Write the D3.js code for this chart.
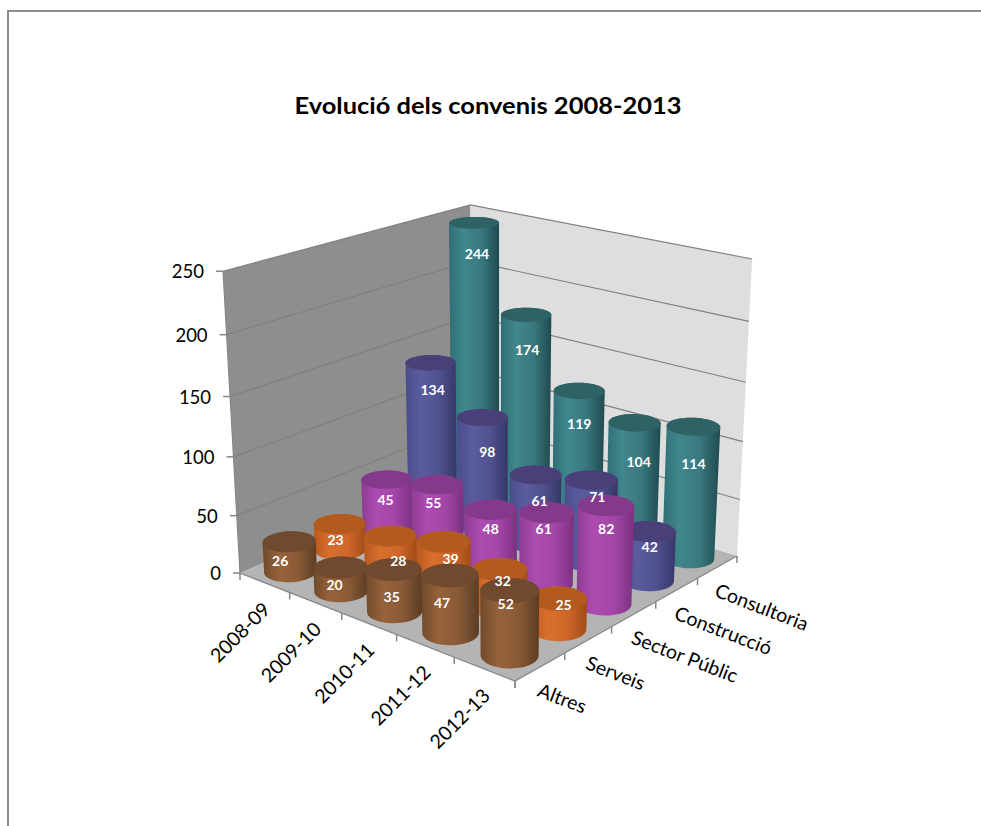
<!DOCTYPE html>
<html><head><meta charset="utf-8">
<script src="https://cdn.jsdelivr.net/npm/d3@7"></script>
<style>html,body{margin:0;padding:0;background:#fff}svg{display:block}</style>
</head><body><svg id="c" width="981" height="826"></svg>
<script>
const years = ["2008-09","2009-10","2010-11","2011-12","2012-13"];
const seriesNames = ["Altres","Serveis","Sector Públic","Construcció","Consultoria"];
const altres = [26,20,35,47,52];
const serveis = [23,28,39,32,25];
const sectorPublic = [45,55,48,61,82];
const construccio = [134,98,61,71,42];
const consultoria = [244,174,119,104,114];
const seriesValues = [altres,serveis,sectorPublic,construccio,consultoria];
const yTicks = [0,50,100,150,200,250];
// hand placement of each data label relative to the top of its column, as in the source chart
const labelNudge = [
 [[-9,0],[-6,-2],[-2,8],[-8,9],[-4,-5]],
 [[-4,-3],[8,6],[7,-2],[3,-7],[5,-12]],
 [[-1,1],[-4,-1],[0,0],[-3,-2],[0,4]],
 [[2,8],[5,16],[4,7],[6,-2],[1,-3]],
 [[3,12],[1,16],[0,14],[4,20],[0,18]]
];
const palette = [
 {side:["#6f4a2c","#96623a","#8a5a36","#5a3c24"],top:"#70492f"},
 {side:["#b8591f","#d86f2c","#cf672a","#a04c18"],top:"#b35a1e"},
 {side:["#8e3c92","#ad4cb0","#a445a8","#7a3180"],top:"#84398a"},
 {side:["#4a4c8a","#5a5c9e","#50528f","#363668"],top:"#4a3f78"},
 {side:["#2e6f74","#41878d","#38787e","#1f4a4e"],top:"#2f6265"}
];
// projection anchors
const L=[240,573],F=[515,681],R=[737,556],B=[472,474],V=[500,5203];
const Ltop=[223,270],Rtop=[752,259],Btop=[470,206];
function homography(p0,p1,p2,p3){ // (0,0),(1,0),(1,1),(0,1)
  const dx1=p1[0]-p2[0],dx2=p3[0]-p2[0],sx=p0[0]-p1[0]+p2[0]-p3[0];
  const dy1=p1[1]-p2[1],dy2=p3[1]-p2[1],sy=p0[1]-p1[1]+p2[1]-p3[1];
  const det=dx1*dy2-dx2*dy1;
  const g=(sx*dy2-dx2*sy)/det,h=(dx1*sy-sx*dy1)/det;
  return [p1[0]-p0[0]+g*p1[0],p3[0]-p0[0]+h*p3[0],p0[0],
          p1[1]-p0[1]+g*p1[1],p3[1]-p0[1]+h*p3[1],p0[1],g,h,1];
}
const H=homography(L,F,R,B);
const floor=(u,v)=>[H[0]*u+H[1]*v+H[2],H[3]*u+H[4]*v+H[5],H[6]*u+H[7]*v+H[8]];
const kOf=(uv,p,t)=>{const w=floor(...uv)[2];return w*(p[1]-t[1])/(t[1]-V[1]);};
const k=d3.mean([kOf([0,0],L,Ltop),kOf([1,1],R,Rtop),kOf([0,1],B,Btop)]);
const hScale=d3.scaleLinear().domain([0,250]).range([0,1]);
function proj(u,v,val){const f=floor(u,v),t=hScale(val)*k;
  const w=f[2]+t;return [(f[0]+t*V[0])/w,(f[1]+t*V[1])/w];}
const uScale=d3.scaleBand().domain(years).range([0,1]);
const vScale=d3.scaleBand().domain(seriesNames).range([0,1]);
const radius=0.2*0.37;

const svg=d3.select("#c");
const defs=svg.append("defs");
palette.forEach((p,i)=>{
  const g=defs.append("linearGradient").attr("id","g"+i);
  [[0,p.side[0]],[.3,p.side[1]],[.65,p.side[2]],[1,p.side[3]]].forEach(s=>g.append("stop").attr("offset",s[0]).attr("stop-color",s[1]));
});
// chart border
svg.append("path").attr("d","M8,826V11H981").attr("fill","none").attr("stroke","#8c8c8c").attr("stroke-width",2);
svg.append("text").attr("x",488).attr("y",114).attr("text-anchor","middle").attr("textLength",387).attr("lengthAdjust","spacingAndGlyphs")
  .attr("font-family","Lato, Carlito, sans-serif").attr("font-weight",700).attr("font-size",23).text("Evolució dels convenis 2008-2013");
const line=d3.line();
const poly=(pts,fill,stroke)=>svg.append("path").attr("d",line(pts)+"Z").attr("fill",fill).attr("stroke",stroke||"none");
// walls + floor
poly([[0,0],[0,1],[250,1],[250,0]].map(d=>proj(0,d[1],d[0])),"#8e8e8e");
poly([[0,0],[0,1],[250,1],[250,0]].map(d=>proj(d[1],1,d[0])),"#dedede");
poly([[0,0],[1,0],[1,1],[0,1]].map(d=>proj(d[0],d[1],0)),"#b4b4b4");
// gridlines
yTicks.forEach(t=>{
  if(t===0)return;
  svg.append("path").attr("d",line([proj(0,0,t),proj(0,1,t),proj(1,1,t)])).attr("fill","none").attr("stroke","#808080").attr("stroke-width",1.2);
});
svg.append("path").attr("d",line([proj(0,0,250),proj(0,0,0),proj(1,0,0),proj(1,1,0)])).attr("fill","none").attr("stroke","#868686").attr("stroke-width",1.2);
// axis ticks
yTicks.forEach(t=>{
  const a=proj(0,0,t);
  svg.append("line").attr("x1",a[0]-7).attr("x2",a[0]).attr("y1",a[1]).attr("y2",a[1]).attr("stroke","#868686").attr("stroke-width",1.5);
  svg.append("text").attr("x",a[0]-19).attr("y",a[1]+7).attr("text-anchor","end").attr("font-family","Lato, sans-serif").attr("font-size",18.5).attr("fill","#000").text(t);
});
d3.range(6).forEach(i=>{
  const a=proj(i/5,0,0);
  svg.append("line").attr("x1",a[0]).attr("x2",a[0]).attr("y1",a[1]).attr("y2",a[1]+7).attr("stroke","#868686").attr("stroke-width",1.5);
  const b=proj(1,i/5,0);
  svg.append("line").attr("x1",b[0]).attr("x2",b[0]).attr("y1",b[1]).attr("y2",b[1]+7).attr("stroke","#868686").attr("stroke-width",1.5);
});
years.forEach((y,i)=>{
  const a=proj(uScale(y)+uScale.bandwidth()/2,0,0);
  svg.append("text").attr("transform",`translate(${a[0]+7},${a[1]+28}) rotate(-45)`).attr("text-anchor","end")
    .attr("font-family","Lato, sans-serif").attr("font-size",19.5).text(y);
});
seriesNames.forEach((s,i)=>{
  const a=proj(1,vScale(s)+vScale.bandwidth()/2,0);
  svg.append("text").attr("transform",`translate(${a[0]-4},${a[1]+29}) rotate(21)`).attr("text-anchor","start")
    .attr("font-family","Lato, sans-serif").attr("font-size",19.5).text(s);
});
// columns
const cols=[];
seriesValues.forEach((vals,s)=>vals.forEach((val,y)=>{
  const u=uScale(years[y])+uScale.bandwidth()/2,v=vScale(seriesNames[s])+vScale.bandwidth()/2;
  cols.push({s,y,val,u,v,depth:proj(u,v,0)[1]});
}));
cols.sort((a,b)=>a.depth-b.depth);
const angles=d3.range(0,360,6).map(a=>a*Math.PI/180);
cols.forEach(c=>{
  const ring=h=>angles.map(a=>proj(c.u+radius*Math.cos(a),c.v+radius*Math.sin(a),h));
  const bot=ring(0),top=ring(c.val);
  const hull=d3.polygonHull(bot.concat(top));
  svg.append("path").attr("d",line(hull)+"Z").attr("fill","url(#g"+c.s+")");
  svg.append("path").attr("d",line(top)+"Z").attr("fill",palette[c.s].top);
});
cols.forEach(c=>{
  const t=proj(c.u,c.v,c.val),n=labelNudge[c.s][c.y];
  svg.append("text").attr("x",t[0]+n[0]).attr("y",t[1]+24+n[1]).attr("text-anchor","middle")
    .attr("font-family","Lato, sans-serif").attr("font-weight",700).attr("font-size",14).attr("fill","#fff").text(c.val);
});
</script></body></html>
